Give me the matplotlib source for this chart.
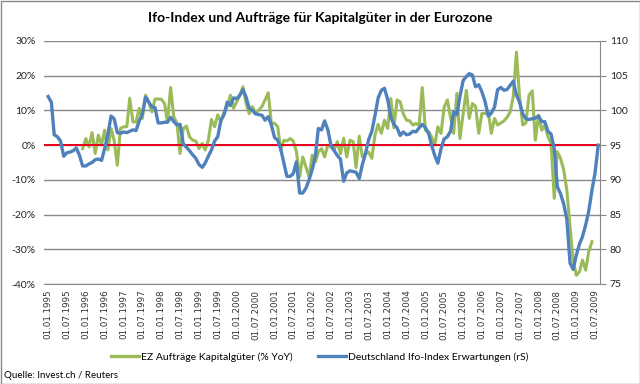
import numpy as np
import pandas as pd
import matplotlib
matplotlib.use("Agg")
import matplotlib.pyplot as plt
import matplotlib.dates as mdates
from matplotlib.ticker import FuncFormatter, MultipleLocator
from matplotlib.patches import Rectangle
from matplotlib.lines import Line2D

plt.rcParams['font.family'] = ['Lato', 'DejaVu Sans']

title = "Ifo-Index und Aufträge für Kapitalgüter in der Eurozone"
label_orders = "EZ Aufträge Kapitalgüter (% YoY)"
label_ifo = "Deutschland Ifo-Index Erwartungen (rS)"
source = "Quelle: Invest.ch / Reuters"

# Ifo expectations, monthly from 01.1995 (right axis)
ifo_start = "1995-01-01"
ifo_values = [
    102.0, 101.2, 96.5, 96.2, 95.6, 93.4, 93.9, 94.0, 94.2, 94.6, 93.5, 92.0,   # 1995
    92.0, 92.3, 92.5, 92.9, 93.0, 92.8, 94.5, 96.5, 99.2, 98.8, 96.8, 96.7,     # 1996
    96.9, 96.8, 97.0, 97.2, 97.1, 98.5, 99.5, 101.9, 101.2, 100.5, 100.4, 98.2, # 1997
    98.2, 98.3, 98.3, 99.0, 98.4, 97.9, 98.0, 95.2, 94.7, 94.2, 93.6, 93.1,     # 1998
    92.2, 91.8, 92.4, 93.4, 94.3, 95.6, 96.2, 98.6, 99.4, 101.2, 100.7, 101.8,  # 1999
    101.7, 102.2, 103.0, 101.9, 100.3, 100.0, 99.5, 99.4, 99.3, 98.6, 99.1, 97.9,  # 2000
    96.1, 95.7, 94.5, 92.5, 90.5, 90.5, 90.9, 92.6, 88.1, 88.1, 88.8, 90.0,     # 2001
    91.5, 93.5, 97.4, 97.2, 98.5, 97.2, 95.0, 94.2, 93.5, 93.0, 89.8, 91.0,     # 2002
    91.3, 91.2, 91.1, 90.2, 92.2, 93.8, 95.8, 97.0, 99.3, 101.8, 102.9, 103.2,  # 2003
    101.6, 99.0, 98.0, 97.5, 96.4, 96.9, 96.5, 96.6, 97.0, 96.9, 97.5, 98.0,    # 2004
    97.5, 96.7, 95.0, 93.5, 92.4, 94.5, 95.9, 96.2, 97.0, 99.8, 99.4, 102.0,    # 2005
    104.3, 104.9, 105.3, 105.1, 103.4, 103.7, 102.7, 101.3, 99.2, 99.6, 100.5, 103.0,  # 2006
    103.3, 102.9, 103.0, 103.6, 104.2, 102.2, 101.2, 99.5, 98.8, 98.7, 98.8, 98.9,     # 2007
    99.2, 98.4, 98.4, 97.0, 96.6, 94.5, 89.0, 88.0, 86.5, 84.3, 78.0, 77.1,     # 2008
    79.2, 80.8, 81.8, 83.5, 85.5, 88.5, 91.0, 95.0,                             # 2009
]

# EZ capital goods orders, % YoY, monthly from 12.1995 (left axis)
orders_start = "1995-12-01"
orders_values = [
    -1.0,                                                                       # 1995
    1.9, -0.5, 3.6, -2.4, 2.9, 0.0, 4.3, -1.4, 4.8, 1.4, -5.8, 4.8,             # 1996
    5.3, 5.3, 13.5, 6.7, 6.7, 10.6, 7.7, 14.4, 12.5, 9.6, 13.3, 13.3,           # 1997
    13.2, 12.0, 6.7, 16.6, 8.2, 6.3, -2.4, 4.8, 5.5, 2.4, 1.4, 1.2,             # 1998
    -1.0, 0.5, -1.4, 1.4, 7.4, 5.3, 8.7, 6.7, 9.6, 11.1, 14.4, 10.6,            # 1999
    12.5, 14.4, 16.8, 12.0, 9.1, 11.1, 9.1, 10.1, 11.1, 13.0, 15.1, 6.3,        # 2000
    6.3, 5.3, -1.4, 1.4, 1.2, 1.9, 1.2, -1.9, -9.1, -3.4, -6.3, -9.1,           # 2001
    -2.9, -4.8, -1.9, -1.0, -3.4, 0.0, -0.5, -1.4, 1.0, -2.5, 2.0, -3.4,        # 2002
    1.4, 1.0, -6.5, 2.6, -3.4, -2.5, -2.0, -3.8, 3.0, 6.0, 3.4, 7.2,            # 2003
    4.8, 13.4, 5.0, 13.0, 12.5, 9.0, 7.2, 7.0, 5.8, 6.2, 5.8, 16.6,             # 2004
    4.3, 3.8, 2.4, 0.0, 5.3, 3.4, 11.0, 13.0, 8.0, 3.4, 14.9, 1.9,              # 2005
    9.1, 15.8, 7.7, 12.0, 11.2, 3.4, 9.1, 9.1, 9.6, 3.4, 7.7, 5.8,              # 2006
    6.4, 7.0, 8.0, 9.5, 14.0, 26.8, 13.9, 5.8, 6.4, 14.4, 15.6, 1.4,            # 2007
    8.6, 4.3, 5.8, 2.4, 0.5, -15.3, -1.9, -3.8, -7.2, -13.0, -23.5, -33.1,      # 2008
    -37.5, -36.4, -33.1, -36.0, -30.7, -27.8,                                   # 2009
]

left_ticks = [-40, -30, -20, -10, 0, 10, 20, 30]
right_ticks = [75, 80, 85, 90, 95, 100, 105, 110]

ifo_dates = pd.date_range(ifo_start, periods=len(ifo_values), freq="MS")
orders_dates = pd.date_range(orders_start, periods=len(orders_values), freq="MS")

green = "#9BBB59"
blue = "#4F81BD"
grid = "#898989"

fig = plt.figure(figsize=(6.4, 3.84), dpi=100)
ax = fig.add_axes([44 / 640, 1 - 284 / 384, 556 / 640, 243 / 384])
ax2 = ax.twinx()

ax.set_ylim(left_ticks[0], left_ticks[-1])
ax.set_yticks(left_ticks)
ax.yaxis.set_major_formatter(FuncFormatter(lambda v, p: f"{v:.0f}%"))
ax.yaxis.grid(True, color=grid, linewidth=1.0)
ax.set_axisbelow(True)
ax.plot(orders_dates, orders_values, color=green, linewidth=2.2, solid_joinstyle="round")
ax.axhline(0, color="#E8001C", linewidth=1.4, zorder=5)

ax2.set_ylim(right_ticks[0], right_ticks[-1])
ax2.set_yticks(right_ticks)
ax2.plot(ifo_dates, ifo_values, color=blue, linewidth=2.4, solid_joinstyle="round")

ax.set_xlim(pd.Timestamp("1994-11-22"), pd.Timestamp("2009-08-18"))
ax.xaxis.set_major_locator(mdates.MonthLocator(bymonth=[1, 7], bymonthday=1))
ax.xaxis.set_major_formatter(mdates.DateFormatter("%d.%m.%Y"))

for s in ["top", "left", "right"]:
    ax.spines[s].set_visible(False)
ax.spines["bottom"].set_color(grid)
for s in ["top", "left", "bottom"]:
    ax2.spines[s].set_visible(False)
ax2.spines["right"].set_color(grid)

ax.tick_params(axis="y", length=0, pad=6, labelsize=7.5, labelcolor="#222222")
ax.tick_params(axis="x", length=0, pad=4, labelsize=6.3, labelcolor="#333333",
               labelrotation=90)
for t in ax.get_xticklabels():
    t.set_fontfamily("DejaVu Sans")
ax2.tick_params(axis="y", length=4, color=grid, pad=3, labelsize=7.5, labelcolor="#222222")

fig.text(0.5, 1 - 18 / 384, title, ha="center", va="center",
         fontsize=10, fontweight="bold")

handles = [Line2D([], [], color=green, linewidth=2.4),
           Line2D([], [], color=blue, linewidth=2.4)]
fig.legend(handles, [label_orders, label_ifo], loc="center",
           bbox_to_anchor=(0.5, 1 - 357 / 384), ncol=2, frameon=False,
           fontsize=7.5, handlelength=2.7, handletextpad=0.2, columnspacing=2.4)

fig.text(4 / 640, 1 - 376 / 384, source, ha="left", va="center", fontsize=7)

fig.patches.append(Rectangle((0.5 / 640, 0.5 / 384), 1 - 1 / 640, 1 - 1 / 384,
                             transform=fig.transFigure, fill=False,
                             edgecolor="#898989", linewidth=1.0))

fig.savefig("out.png", dpi=100)
